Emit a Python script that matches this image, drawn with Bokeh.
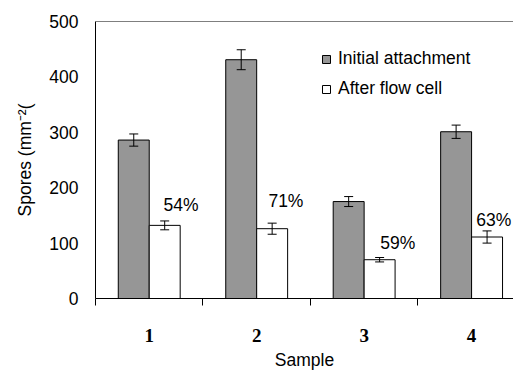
from bokeh.plotting import figure
from bokeh.models import (ColumnDataSource, FixedTicker, Whisker, Legend, LegendItem,
                          Span, Range1d, TeeHead)
from bokeh.core.properties import value
from bokeh.embed import file_html
from bokeh.resources import INLINE

samples = [1, 2, 3, 4]
sample_labels = ["1", "2", "3", "4"]
initial = [286, 431, 175, 301]
initial_err = [11, 18, 9, 12]
after = [132, 126, 70, 111]
after_err = [8, 10, 4, 11]
pct_labels = ["54%", "71%", "59%", "63%"]
pct_x = [1.133, 2.109, 3.151, 4.044]
pct_y = [169, 176, 101, 142]
y_ticks = [0, 100, 200, 300, 400, 500]

off = 0.144
bw = 0.288
FONT = "Liberation Sans"

src_i = ColumnDataSource(dict(x=[s - off for s in samples], top=initial,
                              upper=[v + e for v, e in zip(initial, initial_err)],
                              lower=[v - e for v, e in zip(initial, initial_err)]))
src_a = ColumnDataSource(dict(x=[s + off for s in samples], top=after,
                              upper=[v + e for v, e in zip(after, after_err)],
                              lower=[v - e for v, e in zip(after, after_err)]))

p = figure(width=513, height=372, output_backend="svg", toolbar_location=None,
           x_range=Range1d(0.5, 4.39), y_range=Range1d(0, 500),
           min_border_left=95, min_border_top=21, min_border_right=0, min_border_bottom=73)
p.outline_line_color = None
p.xgrid.grid_line_color = None
p.ygrid.grid_line_color = None

r_i = p.vbar(x="x", top="top", width=bw, source=src_i, fill_color="#969696", line_color="black", line_width=1)
r_a = p.vbar(x="x", top="top", width=bw, source=src_a, fill_color="white", line_color="black", line_width=1)

for src in (src_i, src_a):
    w = Whisker(base="x", upper="upper", lower="lower", source=src, line_color="black", line_width=1,
                upper_head=TeeHead(size=9, line_color="black", line_width=1),
                lower_head=TeeHead(size=9, line_color="black", line_width=1))
    w.level = "overlay"
    p.add_layout(w)

p.text(x=pct_x, y=pct_y, text=pct_labels, text_font=value(FONT), text_font_size="17.5px",
       text_align="left", text_baseline="middle", text_color="black")

p.add_layout(Span(location=500, dimension="width", line_color="black", line_width=1))

# axes
xa = p.xaxis[0]
xa.ticker = FixedTicker(ticks=samples, minor_ticks=[0.5, 1.5, 2.5, 3.5])
xa.major_label_overrides = {s: l for s, l in zip(samples, sample_labels)}
xa.major_tick_out = 0
xa.major_tick_in = 0
xa.minor_tick_out = 7
xa.minor_tick_in = 0
xa.minor_tick_line_color = "black"
xa.axis_line_color = "black"
xa.major_label_text_font = "Liberation Serif"
xa.major_label_text_font_style = "bold"
xa.major_label_text_font_size = "19px"
xa.major_label_text_color = "black"
xa.major_label_standoff = 23
xa.axis_label = "Sample"
xa.axis_label_text_font = FONT
xa.axis_label_text_font_style = "normal"
xa.axis_label_text_font_size = "17.5px"
xa.axis_label_text_color = "black"
xa.axis_label_standoff = 5

ya = p.yaxis[0]
ya.ticker = FixedTicker(ticks=y_ticks)
ya.major_tick_out = 0
ya.major_tick_in = 0
ya.minor_tick_out = 0
ya.minor_tick_in = 0
ya.axis_line_color = "black"
ya.major_label_text_font = FONT
ya.major_label_text_font_size = "17.5px"
ya.major_label_text_color = "black"
ya.major_label_standoff = 17
ya.axis_label = "Spores (mm⁻²("
ya.axis_label_text_font = FONT
ya.axis_label_text_font_style = "normal"
ya.axis_label_text_font_size = "17.5px"
ya.axis_label_text_color = "black"
ya.axis_label_standoff = 11

legend = Legend(items=[LegendItem(label="Initial attachment", renderers=[r_i]),
                       LegendItem(label="After flow cell", renderers=[r_a])],
                location=(226, 199), padding=0, spacing=9, label_height=20,
                glyph_width=10, glyph_height=10, label_standoff=7,
                label_text_font=FONT, label_text_font_size="17.5px",
                label_text_color="black",
                border_line_color=None, background_fill_alpha=0)
p.add_layout(legend)

open("out.html", "w").write(file_html(p, INLINE))
